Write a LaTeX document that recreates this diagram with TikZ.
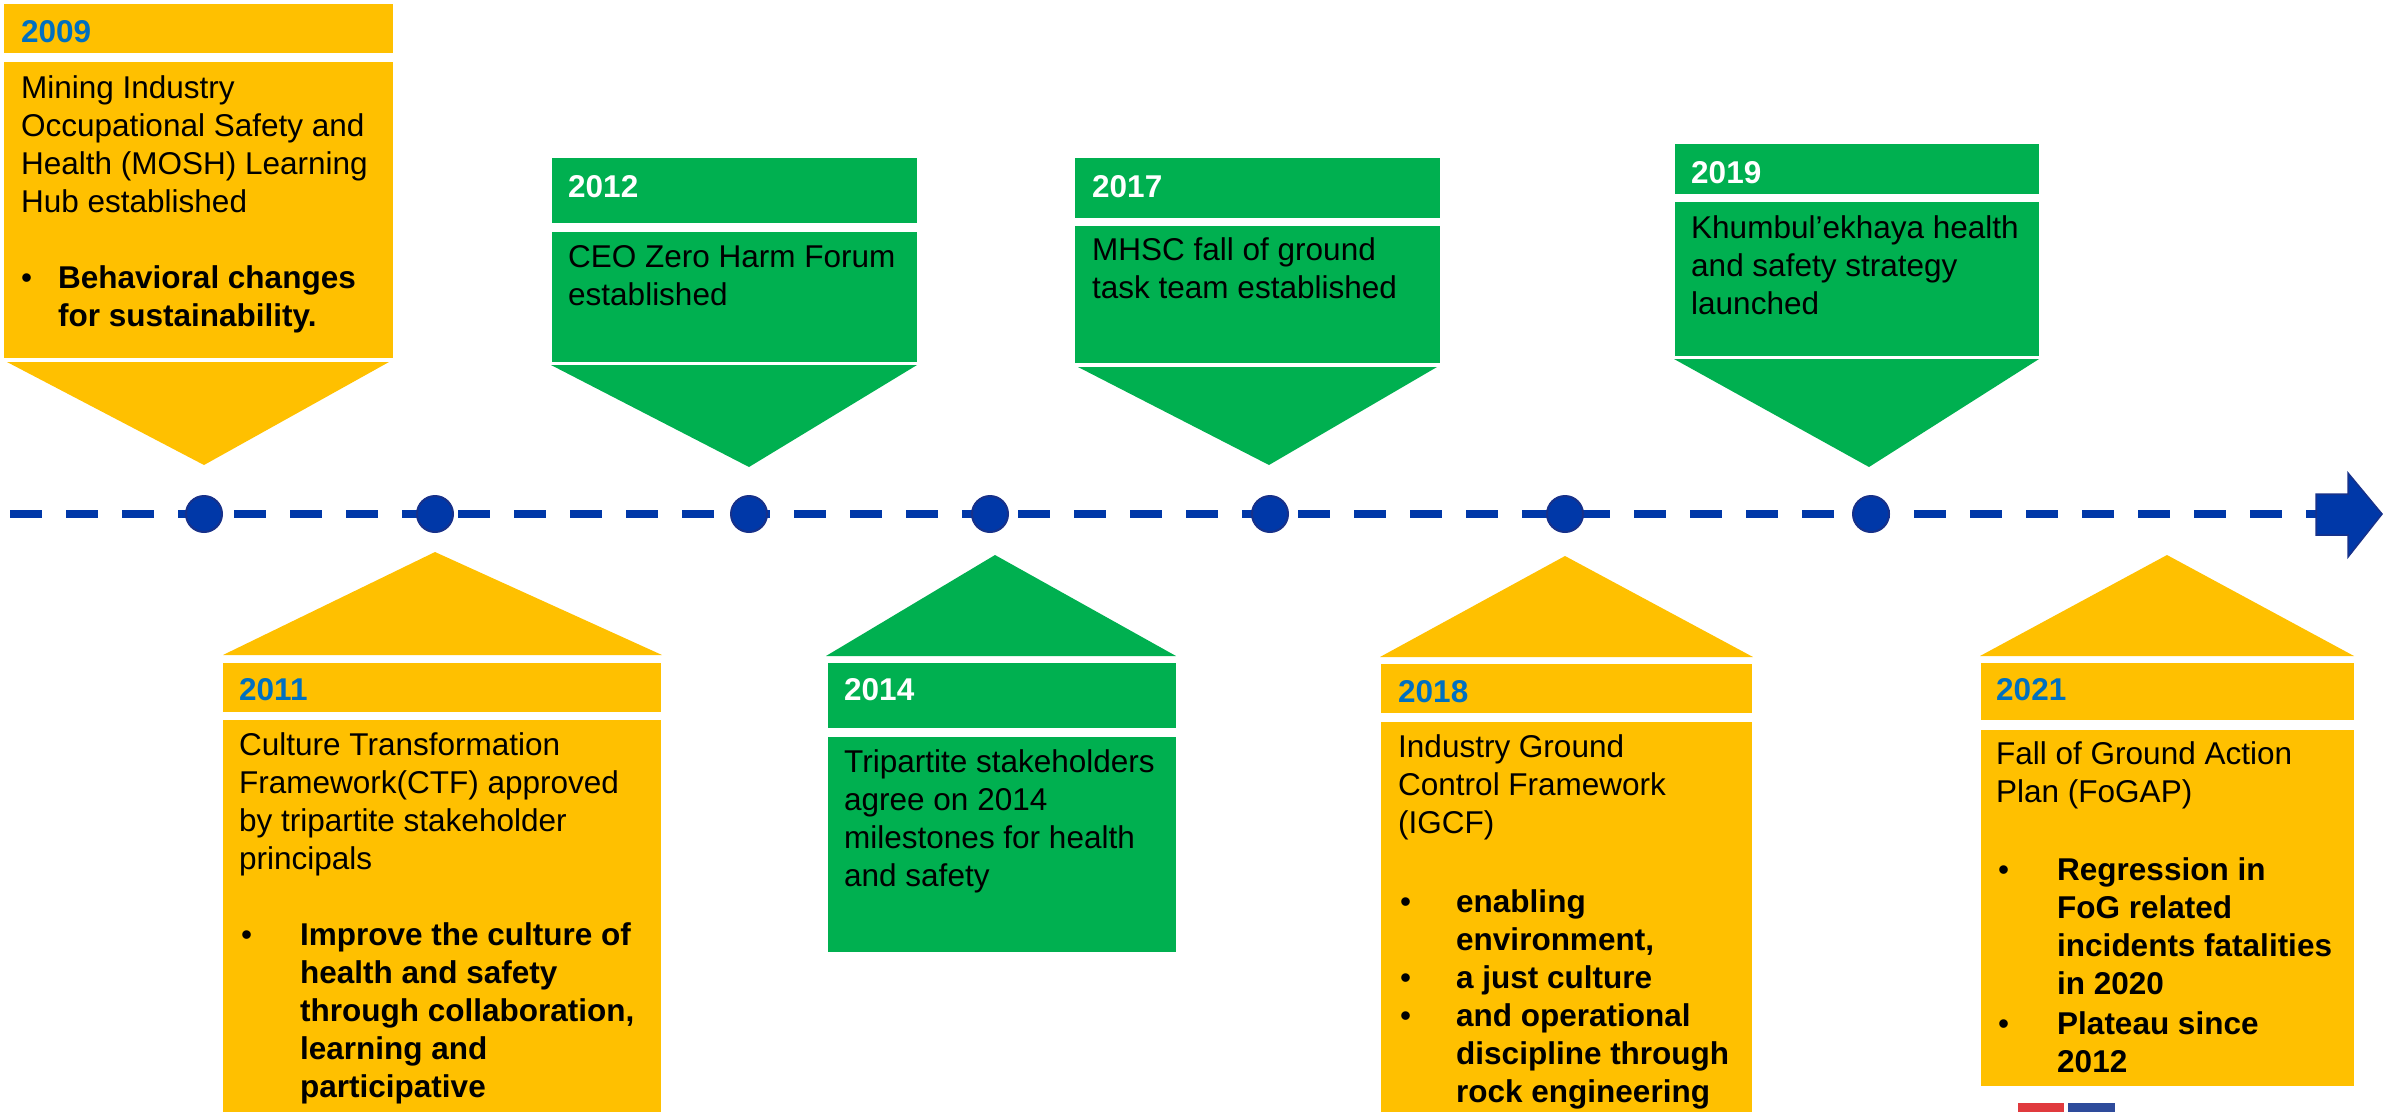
\documentclass[tikz,border=0pt]{standalone}
\usepackage{fontspec}
\setmainfont{Liberation Sans}
\usepackage{tikz}

\definecolor{mgold}{HTML}{FFC000}
\definecolor{mgreen}{HTML}{00B050}
\definecolor{yrblue}{HTML}{0070C0}
\definecolor{lineblue}{HTML}{0038A8}
\definecolor{dotrim}{HTML}{17318A}
\definecolor{logored}{HTML}{E03A3E}
\definecolor{logoblue}{HTML}{2E4B9B}

\newcommand{\stk}[1]{\begin{tabular}[t]{@{}l@{}}#1\end{tabular}}

\begin{document}
\fontsize{31.5}{38}\selectfont
\begin{tikzpicture}[x=1pt, y=-1pt,
	gold/.style={fill=mgold},
	leaf/.style={fill=mgreen},
	yearlbl/.style={anchor=base west, inner sep=0pt, font=\bfseries},
	body/.style={anchor=base west, inner sep=0pt},
	strong/.style={body, font=\bfseries},
	blt/.style={anchor=base west, inner sep=0pt},
	stop/.style={circle, fill=lineblue, draw=dotrim, line width=2pt, minimum size=36pt, inner sep=0pt},
	timeline/.style={draw=lineblue, line width=8pt, dash pattern=on 32pt off 24pt}]
		\useasboundingbox (0,0) rectangle (2403,1112);

		% top row
		\fill [gold] (4,4) rectangle (393,53);
		\fill [gold] (4,62) rectangle (393,358);
		\fill [gold] (7,362) -- (389,362) -- (204,465) -- cycle;
		\node (y09) [yearlbl, text=yrblue] at (21,42) {2009};
		\node (t09) [body] at (21,98) {\stk{Mining Industry\\Occupational Safety and\\Health (MOSH) Learning\\Hub established}};
		\node (p09) [blt] at (21,288) {\textbullet};
		\node (s09) [strong] at (58,288) {\stk{Behavioral changes\\for sustainability.}};

		\fill [leaf] (552,158) rectangle (917,223);
		\fill [leaf] (552,232) rectangle (917,362);
		\fill [leaf] (551,365) -- (917,365) -- (749,467) -- cycle;
		\node (y12) [yearlbl, text=white] at (568,197) {2012};
		\node (t12) [body] at (568,267) {\stk{CEO Zero Harm Forum\\established}};

		\fill [leaf] (1075,158) rectangle (1440,218);
		\fill [leaf] (1075,226) rectangle (1440,363);
		\fill [leaf] (1078,367) -- (1437,367) -- (1269,465) -- cycle;
		\node (y17) [yearlbl, text=white] at (1092,197) {2017};
		\node (t17) [body] at (1092,260) {\stk{MHSC fall of ground\\task team established}};

		\fill [leaf] (1675,144) rectangle (2039,194);
		\fill [leaf] (1675,202) rectangle (2039,356);
		\fill [leaf] (1674,359) -- (2039,359) -- (1869,467) -- cycle;
		\node (y19) [yearlbl, text=white] at (1691,183) {2019};
		\node (t19) [body] at (1691,238) {\stk{Khumbul’ekhaya health\\and safety strategy\\launched}};

		% bottom row
		\fill [gold] (223,655) -- (662,655) -- (435,552) -- cycle;
		\fill [gold] (223,663) rectangle (661,712);
		\fill [gold] (223,720) rectangle (661,1112);
		\node (y11) [yearlbl, text=yrblue] at (239,700) {2011};
		\node (t11) [body] at (239,755) {\stk{Culture Transformation\\Framework(CTF) approved\\by tripartite stakeholder\\principals}};
		\node (p11) [blt] at (241,945) {\textbullet};
		\node (s11) [strong] at (300,945) {\stk{Improve the culture of\\health and safety\\through collaboration,\\learning and\\participative}};

		\fill [leaf] (826,656) -- (1176,656) -- (995,555) -- cycle;
		\fill [leaf] (828,663) rectangle (1176,728);
		\fill [leaf] (828,737) rectangle (1176,952);
		\node (y14) [yearlbl, text=white] at (844,700) {2014};
		\node (t14) [body] at (844,772) {\stk{Tripartite stakeholders\\agree on 2014\\milestones for health\\and safety}};

		\fill [gold] (1380,657) -- (1753,657) -- (1565,556) -- cycle;
		\fill [gold] (1381,664) rectangle (1752,713);
		\fill [gold] (1381,722) rectangle (1752,1112);
		\node (y18) [yearlbl, text=yrblue] at (1398,702) {2018};
		\node (t18) [body] at (1398,757) {\stk{Industry Ground\\Control Framework\\(IGCF)}};
		\node (p18a) [blt] at (1400,912) {\textbullet};
		\node (s18a) [strong] at (1456,912) {\stk{enabling\\environment,}};
		\node (p18b) [blt] at (1400,988) {\textbullet};
		\node (s18b) [strong] at (1456,988) {a just culture};
		\node (p18c) [blt] at (1400,1026) {\textbullet};
		\node (s18c) [strong] at (1456,1026) {\stk{and operational\\discipline through\\rock engineering}};

		\fill [gold] (1980,656) -- (2354,656) -- (2167,555) -- cycle;
		\fill [gold] (1981,663) rectangle (2354,720);
		\fill [gold] (1981,730) rectangle (2354,1086);
		\node (y21) [yearlbl, text=yrblue] at (1996,700) {2021};
		\node (t21) [body] at (1996,764) {\stk{Fall of Ground Action\\Plan (FoGAP)}};
		\node (p21a) [blt] at (1998,880) {\textbullet};
		\node (s21a) [strong] at (2057,880) {\stk{Regression in\\FoG related\\incidents fatalities\\in 2020}};
		\node (p21b) [blt] at (1998,1034) {\textbullet};
		\node (s21b) [strong] at (2057,1034) {\stk{Plateau since\\2012}};

		\fill [logored] (2018,1103) rectangle (2064,1112);
		\fill [logoblue] (2068,1103) rectangle (2115,1112);

		% timeline
		\coordinate (start) at (10,514);
		\coordinate (tail) at (2316,514);
		\draw [timeline] (start) to (tail);
		\filldraw [fill=lineblue, draw=dotrim, line width=1.5pt] (tail) -- ++(0,-20) -- ++(32,0) -- ++(0,-21) -- ++(34,41) -- ++(-34,43) -- ++(0,-22) -- ++(-32,0) -- cycle;
		\foreach \x/\n in {204/d09, 435/d11, 749/d12, 990/d14, 1270/d17, 1565/d18, 1871/d19}
			\node (\n) [stop] at (\x,514) {};
	\end{tikzpicture}
\end{document}
